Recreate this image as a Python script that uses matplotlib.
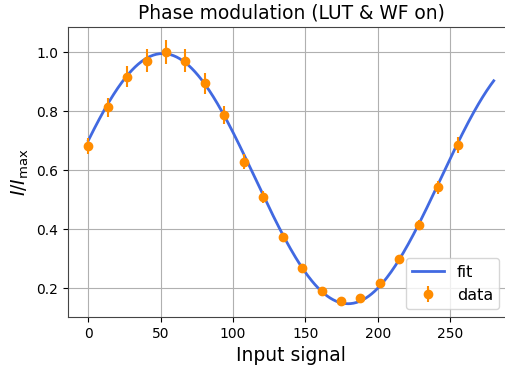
import numpy as np
import matplotlib
matplotlib.use("Agg")
import matplotlib.pyplot as plt

# measured points
signal = [0, 13.4, 26.8, 40.3, 53.7, 67.1, 80.5, 93.9, 107.4, 120.8,
          134.2, 147.6, 161.1, 174.5, 187.9, 201.3, 214.7, 228.2, 241.6, 255]
intensity = [0.683, 0.813, 0.917, 0.971, 1.000, 0.970, 0.894, 0.786, 0.628, 0.508,
             0.372, 0.268, 0.189, 0.157, 0.166, 0.217, 0.297, 0.415, 0.541, 0.685]
errors = [0.027, 0.033, 0.037, 0.039, 0.040, 0.039, 0.036, 0.031, 0.025, 0.020,
          0.015, 0.011, 0.008, 0.006, 0.007, 0.009, 0.012, 0.017, 0.022, 0.027]

# fit parameters: offset, amplitude, period, position of max
fit_offset = 0.571
fit_amp = 0.424
fit_period = 256.0
fit_x0 = 51.4

x_fit = np.linspace(0, 280, 400)
y_fit = fit_offset + fit_amp * np.cos(2 * np.pi * (x_fit - fit_x0) / fit_period)

fig = plt.figure(figsize=(5.06, 3.69), dpi=100)
ax = fig.add_axes([68 / 506, 1 - 317 / 369, (514 - 68) / 506, (317 - 27) / 369])

ax.plot(x_fit, y_fit, color="royalblue", lw=2, label="fit", zorder=2)
ax.errorbar(signal, intensity, yerr=errors, fmt="o", color="darkorange",
            ms=6, elinewidth=1.5, label="data", zorder=3)

ax.set_xlim(-14, 294)
ax.set_ylim(0.102, 1.085)
ax.set_xticks([0, 50, 100, 150, 200, 250])
ax.set_yticks([0.2, 0.4, 0.6, 0.8, 1.0])
ax.tick_params(labelsize=10)
ax.grid(True, color="#b0b0b0", lw=0.8)
ax.set_axisbelow(True)
for s in ax.spines.values():
    s.set_color("#444444")

ax.set_title("Phase modulation (LUT & WF on)", fontsize=13.4)
ax.set_xlabel("Input signal", fontsize=13.5)
ax.set_ylabel(r"$I/I_\mathrm{max}$", fontsize=13.5)
ax.legend(loc="lower right", bbox_to_anchor=(0.985, 0.0), fontsize=11.5)

fig.savefig("out.png", dpi=100)
